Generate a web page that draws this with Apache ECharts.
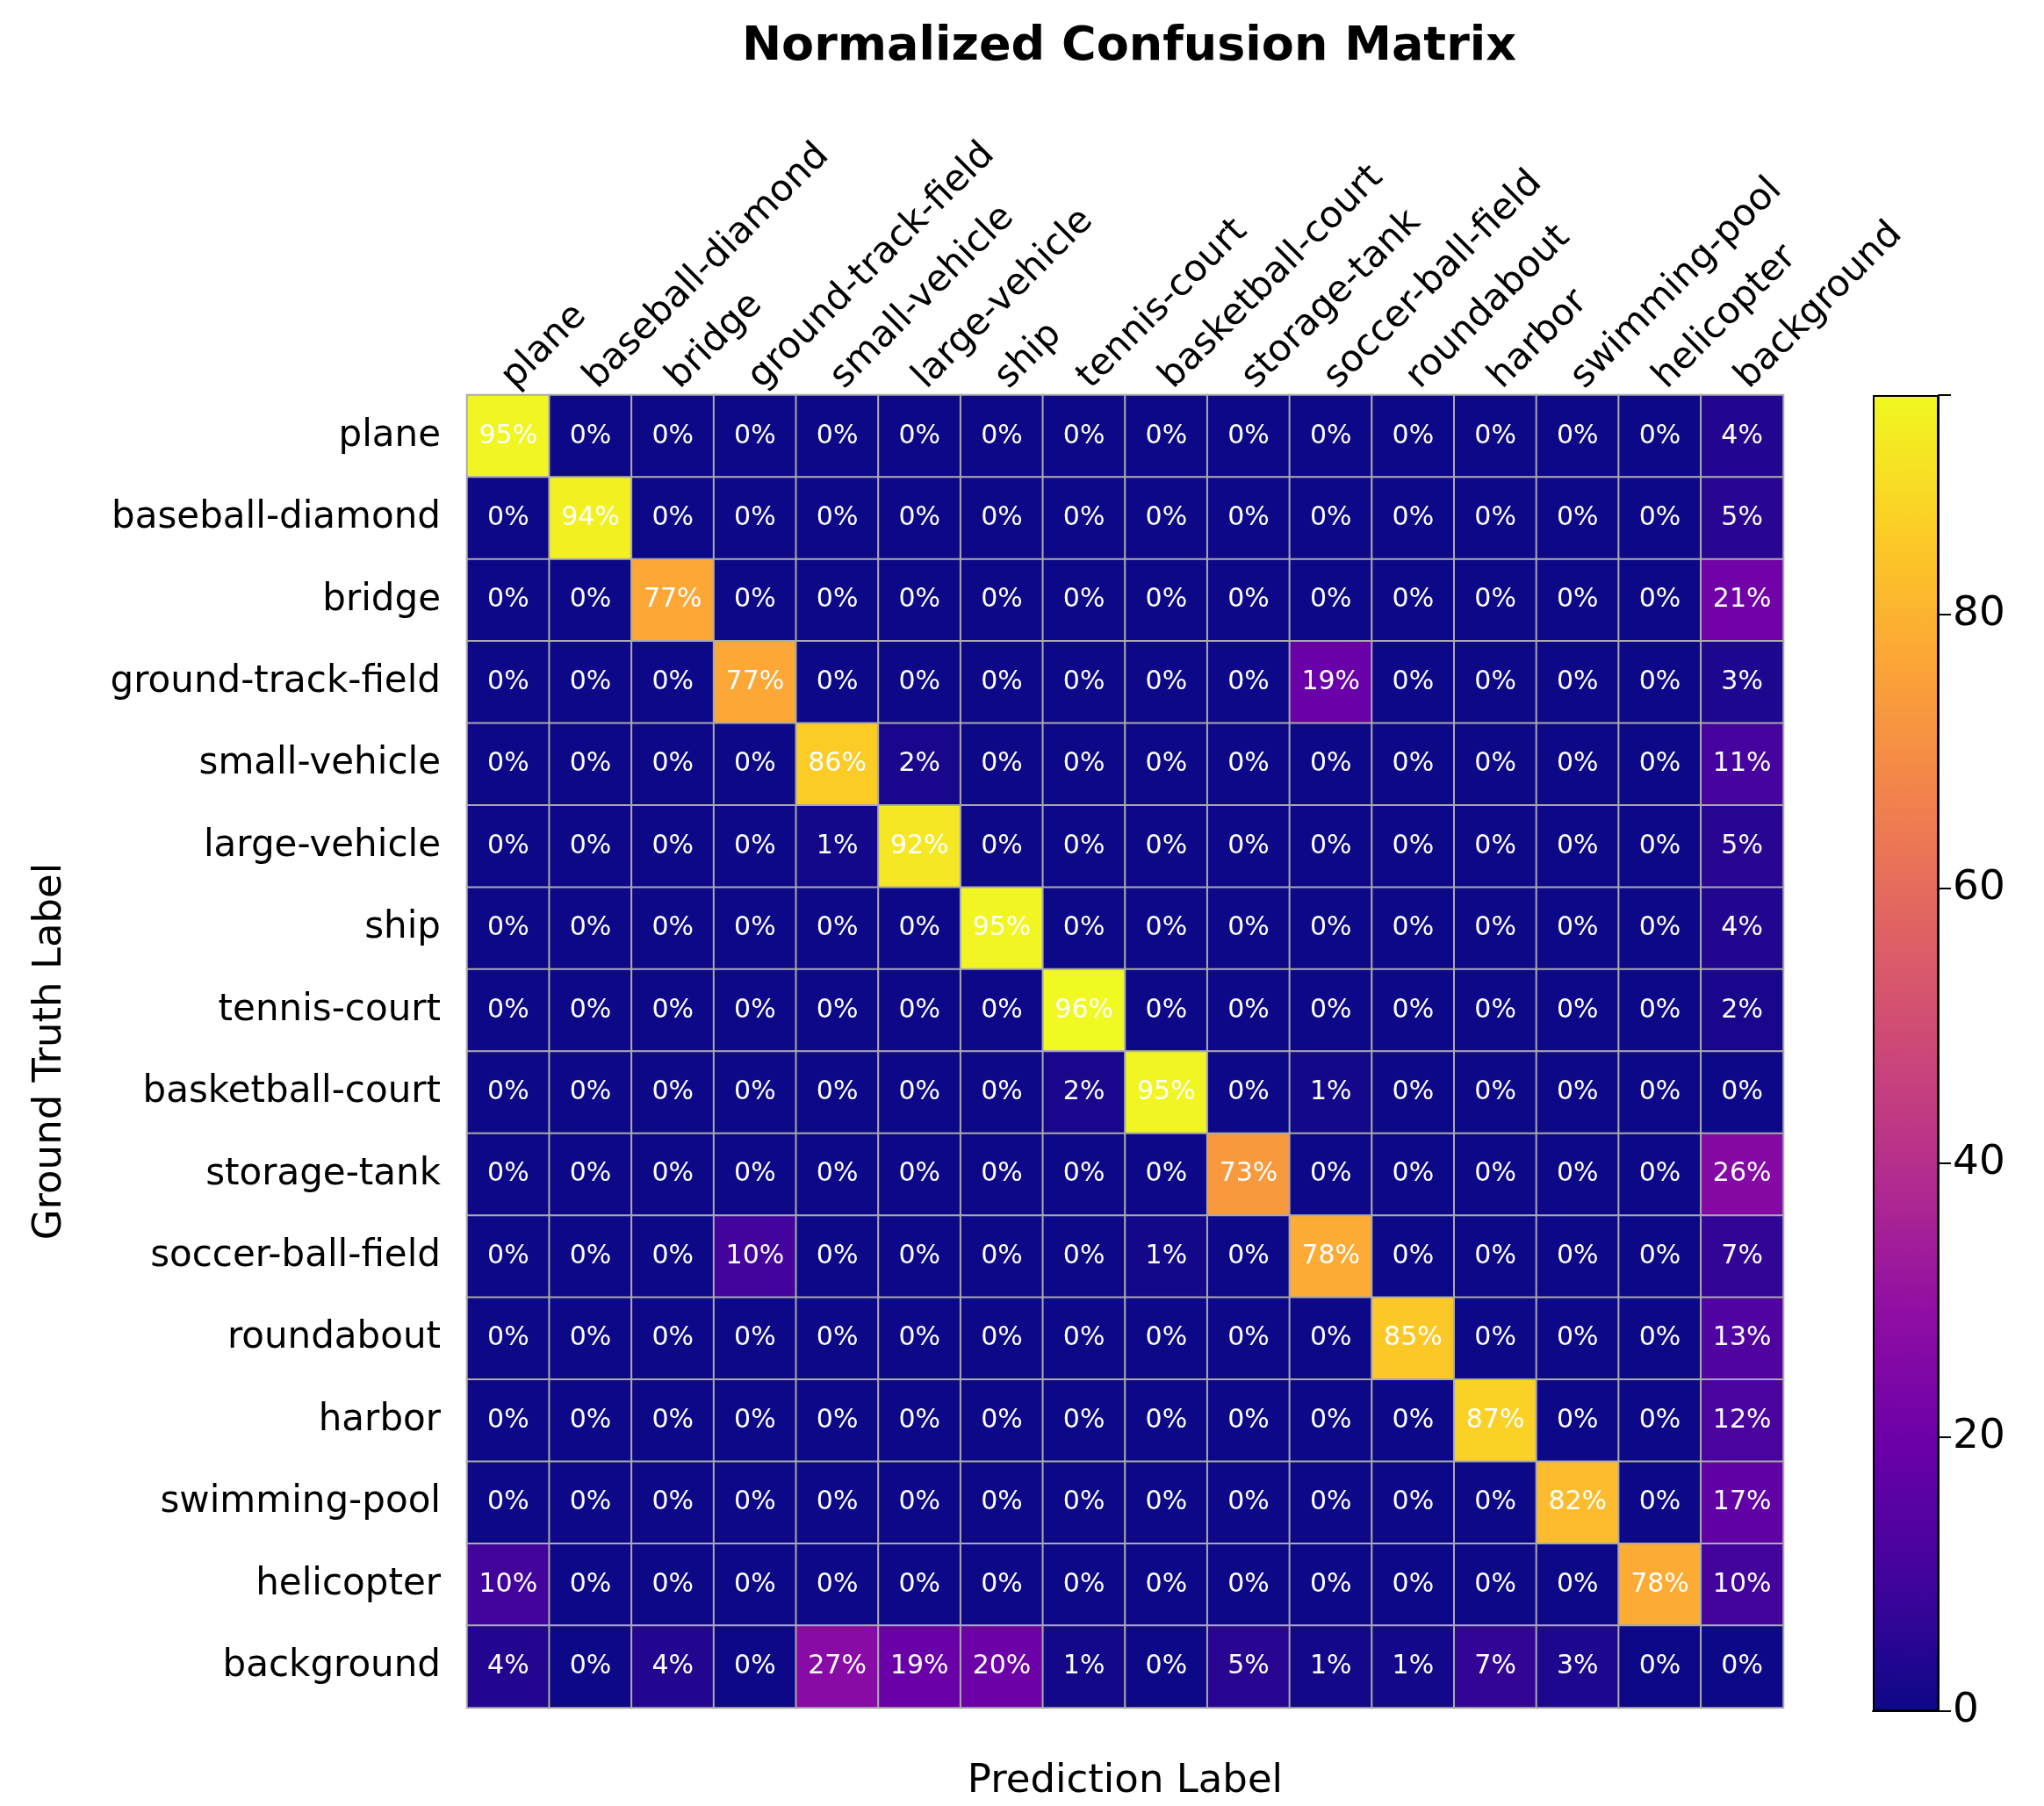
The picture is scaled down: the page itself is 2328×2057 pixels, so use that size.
<!DOCTYPE html>
<html><head><meta charset="utf-8">
<script src="https://cdn.jsdelivr.net/npm/echarts@6/dist/echarts.min.js"></script>
<style>html,body{margin:0;padding:0;background:#fff}#c{width:2328px;height:2057px}</style>
</head><body><div id="c"></div>
<script>
const categories = ['plane','baseball-diamond','bridge','ground-track-field','small-vehicle','large-vehicle','ship','tennis-court','basketball-court','storage-tank','soccer-ball-field','roundabout','harbor','swimming-pool','helicopter','background'];
const matrix = [
 [95,0,0,0,0,0,0,0,0,0,0,0,0,0,0,4],
 [0,94,0,0,0,0,0,0,0,0,0,0,0,0,0,5],
 [0,0,77,0,0,0,0,0,0,0,0,0,0,0,0,21],
 [0,0,0,77,0,0,0,0,0,0,19,0,0,0,0,3],
 [0,0,0,0,86,2,0,0,0,0,0,0,0,0,0,11],
 [0,0,0,0,1,92,0,0,0,0,0,0,0,0,0,5],
 [0,0,0,0,0,0,95,0,0,0,0,0,0,0,0,4],
 [0,0,0,0,0,0,0,96,0,0,0,0,0,0,0,2],
 [0,0,0,0,0,0,0,2,95,0,1,0,0,0,0,0],
 [0,0,0,0,0,0,0,0,0,73,0,0,0,0,0,26],
 [0,0,0,10,0,0,0,0,1,0,78,0,0,0,0,7],
 [0,0,0,0,0,0,0,0,0,0,0,85,0,0,0,13],
 [0,0,0,0,0,0,0,0,0,0,0,0,87,0,0,12],
 [0,0,0,0,0,0,0,0,0,0,0,0,0,82,0,17],
 [10,0,0,0,0,0,0,0,0,0,0,0,0,0,78,10],
 [4,0,4,0,27,19,20,1,0,5,1,1,7,3,0,0]
];
const colorbarTicks = [0,20,40,60,80];
const cbMax = 96;
const plasma = ['#0d0887','#41049d','#6a00a8','#8f0da4','#b12a90','#cc4778','#e16462','#f2844b','#fca636','#fcce25','#f0f921'];

const data = [];
matrix.forEach((row,i)=>row.forEach((v,j)=>data.push([j,i,v])));
const F = 'DejaVu Sans';
const chart = echarts.init(document.getElementById('c'));
chart.setOption({
  animation:false,
  textStyle:{fontFamily:F,color:'#000'},
  title:{text:'Normalized Confusion Matrix',left:1281,top:22,textAlign:'center',textStyle:{fontFamily:F,fontWeight:'bold',fontSize:54,color:'#000'}},
  grid:[{left:532,top:450,width:1499,height:1499},{left:2133,top:450,width:75,height:1499}],
  xAxis:[
    {type:'category',data:categories,position:'top',gridIndex:0,
     axisLine:{lineStyle:{color:'#000',width:2}},axisTick:{alignWithLabel:true,length:14,lineStyle:{color:'#000',width:2}},
     axisLabel:{rotate:-45,fontSize:42,color:'#000',fontFamily:F,margin:14,interval:0},splitLine:{show:false}},
    {type:'category',data:categories,position:'bottom',gridIndex:0,
     name:'Prediction Label',nameLocation:'middle',nameGap:62,nameTextStyle:{fontSize:45,fontFamily:F,color:'#000'},
     axisLine:{lineStyle:{color:'#000',width:2}},axisTick:{length:14,lineStyle:{color:'#000',width:2}},axisLabel:{show:false}},
    {type:'category',data:[''],gridIndex:1,axisLine:{show:true,lineStyle:{color:'#000',width:2}},axisTick:{show:false},axisLabel:{show:false}}
  ],
  yAxis:[
    {type:'category',data:categories,inverse:true,gridIndex:0,
     name:'Ground Truth Label',nameLocation:'middle',nameGap:452,nameRotate:90,nameTextStyle:{fontSize:45,fontFamily:F,color:'#000'},
     axisLine:{lineStyle:{color:'#000',width:2}},axisTick:{alignWithLabel:true,length:14,lineStyle:{color:'#000',width:2}},
     axisLabel:{fontSize:42,color:'#000',fontFamily:F,margin:30,interval:0}},
    {type:'value',gridIndex:1,min:0,max:cbMax,interval:20,position:'right',
     axisLine:{show:true,lineStyle:{color:'#000',width:2}},axisTick:{show:true,length:14,lineStyle:{color:'#000',width:2}},
     axisLabel:{fontSize:47,color:'#000',fontFamily:F,margin:16,
       formatter:v=>colorbarTicks.includes(v)?String(v):''},splitLine:{show:false}}
  ],
  visualMap:{show:false,min:0,max:cbMax,seriesIndex:0,inRange:{color:plasma}},
  series:[
    {type:'heatmap',xAxisIndex:0,yAxisIndex:0,data:data,
     itemStyle:{borderColor:'#aaaaaa',borderWidth:2},
     label:{show:true,formatter:p=>p.value[2]+'%',color:'#fff',fontSize:30,fontFamily:F}},
    {type:'bar',xAxisIndex:2,yAxisIndex:1,data:[cbMax],barWidth:'100%',silent:true,
     itemStyle:{color:new echarts.graphic.LinearGradient(0,1,0,0,plasma.map((c,i)=>({offset:i/(plasma.length-1),color:c}))),borderColor:'#000',borderWidth:2}}
  ]
});
</script></body></html>
